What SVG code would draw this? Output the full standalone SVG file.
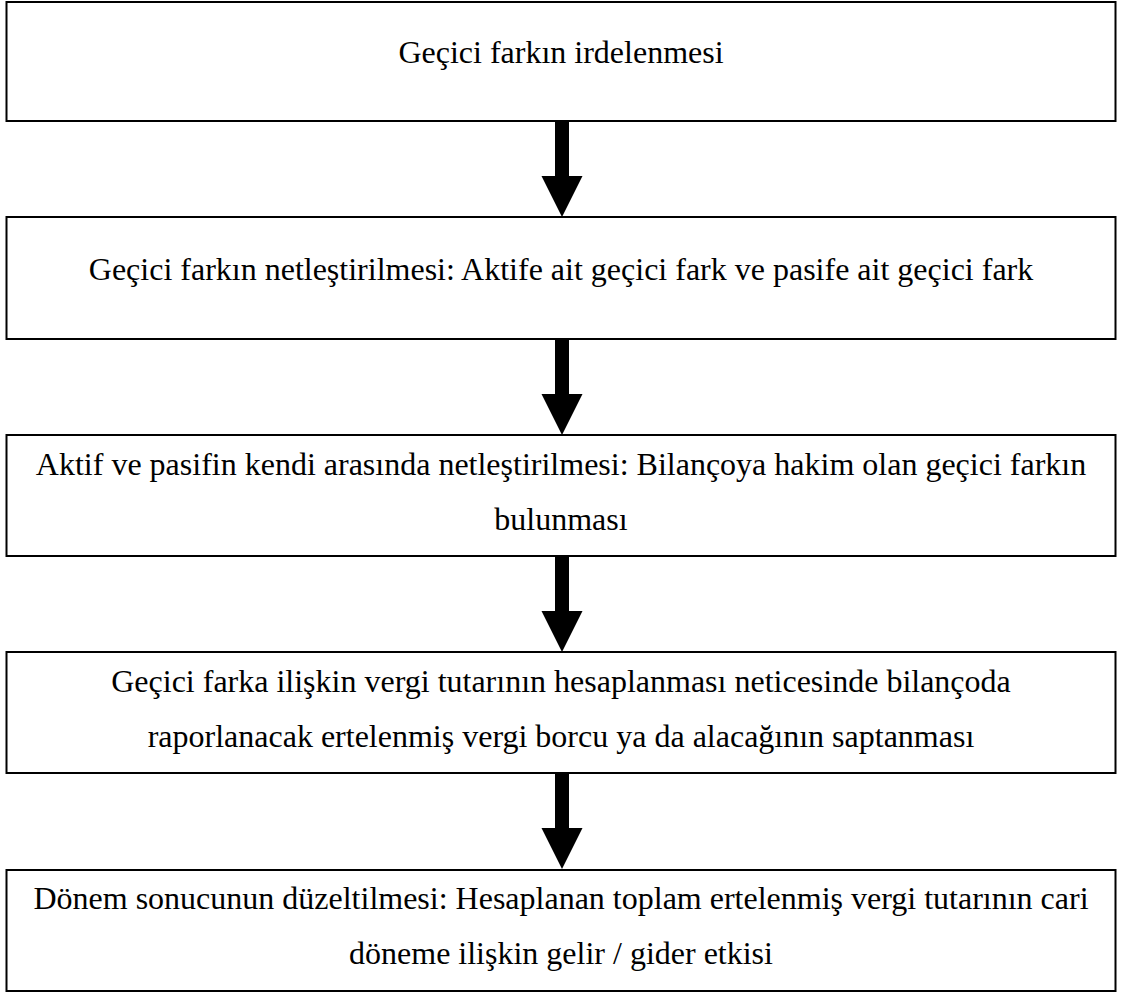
<svg xmlns="http://www.w3.org/2000/svg" width="1121" height="992" viewBox="0 0 1121 992">
<style>
.box{fill:#fff;stroke:#000;stroke-width:2}
.t{font-family:"Liberation Serif","Times New Roman",serif;font-size:32px;fill:#000;text-anchor:middle}
.arr{fill:#000;stroke:none}
</style>
<rect width="1121" height="992" fill="#fff"/>
<g id="connectors">
<polygon class="arr" points="555,121 569,121 569,176 582.5,176 562,217 541.5,176 555,176"/>
<polygon class="arr" points="555,339 569,339 569,394 582.5,394 562,435 541.5,394 555,394"/>
<polygon class="arr" points="555,556 569,556 569,611 582.5,611 562,652 541.5,611 555,611"/>
<polygon class="arr" points="555,773 569,773 569,828 582.5,828 562,869 541.5,828 555,828"/>
</g>
<g id="n1">
<rect class="box" x="6.5" y="2" width="1109" height="119"/>
<text class="t" x="561" y="63">Geçici farkın irdelenmesi</text>
</g>
<g id="n2">
<rect class="box" x="6.5" y="217" width="1109" height="122"/>
<text class="t" x="561" y="280">Geçici farkın netleştirilmesi: Aktife ait geçici fark ve pasife ait geçici fark</text>
</g>
<g id="n3">
<rect class="box" x="6.5" y="435" width="1109" height="121"/>
<text class="t" x="561" y="475">Aktif ve pasifin kendi arasında netleştirilmesi: Bilançoya hakim olan geçici farkın</text>
<text class="t" x="561" y="530">bulunması</text>
</g>
<g id="n4">
<rect class="box" x="6.5" y="652" width="1109" height="121"/>
<text class="t" x="561" y="692">Geçici farka ilişkin vergi tutarının hesaplanması neticesinde bilançoda</text>
<text class="t" x="561" y="747">raporlanacak ertelenmiş vergi borcu ya da alacağının saptanması</text>
</g>
<g id="n5">
<rect class="box" x="6.5" y="870" width="1109" height="121"/>
<text class="t" x="561" y="909">Dönem sonucunun düzeltilmesi: Hesaplanan toplam ertelenmiş vergi tutarının cari</text>
<text class="t" x="561" y="964">döneme ilişkin gelir / gider etkisi</text>
</g>
</svg>
